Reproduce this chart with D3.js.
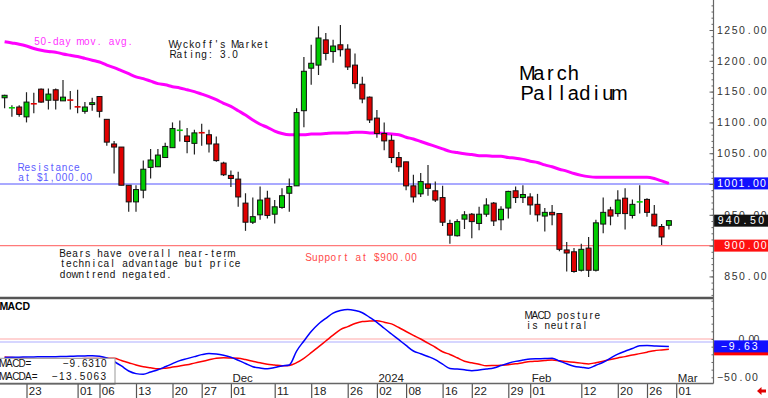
<!DOCTYPE html>
<html>
<head>
<meta charset="utf-8">
<script src="https://cdn.jsdelivr.net/npm/d3@7"></script>
<style>
  body { margin: 0; background: #fff; }
  svg { display: block; }
  text { white-space: pre; }
</style>
</head>
<body>
<div class="chart"></div>
<script>
var svgWidth = 768;
var svgHeight = 398;

// trading days (last one is an axis slot only)
var days = [
  "2023-10-18","2023-10-19","2023-10-20","2023-10-23","2023-10-24","2023-10-25","2023-10-26","2023-10-27","2023-10-30","2023-10-31",
  "2023-11-01","2023-11-02","2023-11-03","2023-11-06","2023-11-07","2023-11-08","2023-11-09","2023-11-10","2023-11-13","2023-11-14",
  "2023-11-15","2023-11-16","2023-11-17","2023-11-20","2023-11-21","2023-11-22","2023-11-24","2023-11-27","2023-11-28","2023-11-29",
  "2023-11-30","2023-12-01","2023-12-04","2023-12-05","2023-12-06","2023-12-07","2023-12-08","2023-12-11","2023-12-12","2023-12-13",
  "2023-12-14","2023-12-15","2023-12-18","2023-12-19","2023-12-20","2023-12-21","2023-12-22","2023-12-26","2023-12-27","2023-12-28",
  "2023-12-29","2024-01-02","2024-01-03","2024-01-04","2024-01-05","2024-01-08","2024-01-09","2024-01-10","2024-01-11","2024-01-12",
  "2024-01-16","2024-01-17","2024-01-18","2024-01-19","2024-01-22","2024-01-23","2024-01-24","2024-01-25","2024-01-26","2024-01-29",
  "2024-01-30","2024-01-31","2024-02-01","2024-02-02","2024-02-05","2024-02-06","2024-02-07","2024-02-08","2024-02-09","2024-02-12",
  "2024-02-13","2024-02-14","2024-02-15","2024-02-16","2024-02-20","2024-02-21","2024-02-22","2024-02-23","2024-02-26","2024-02-27",
  "2024-02-28","2024-02-29","2024-03-01"
];

var open = [1140,1123.5,1125,1109,1130.5,1154,1136,1153,1135,1136.5,1125.5,1118,1129,1142,1105,1065,1060,998,971,990,
  1027,1028,1043,1059,1087,1078,1066,1083.5,1080,1065,1034,1014,1008,969,938,950,977,951,962,985,
  997,1119,1188,1193,1234,1215,1226,1219,1193,1162,1141,1107,1082,1071,1043,1036,997,984,1000,989,
  978,936,916,943,951,936,951,969,942,961,989,978,979,967,948,954,952,893,890,860,
  896,860,935,958,952,977,949,970,975,951,931,933];
var high = [1145,1128,1128,1149,1148,1155,1155,1155,1169,1151,1153,1133,1140,1142,1105,1070,1060,998,998,1038,
  1057,1057,1067,1100,1103,1091,1088,1098,1088,1077,1036,1022,1020,985,978,996,989,974,993,1009,
  1123,1206,1226,1256,1245,1234,1258,1227,1212,1174,1142,1120,1100,1080,1052,1036,1015,1018,1031,1004,
  997,942,943,956,953,963,977,971,964,989,996,998,985,984,961,966,952,906,896,903,
  914,942,978,963,990,993,975,998,977,966,935,941];
var low = [1123,1109,1109,1100,1115,1132,1121,1121,1135,1121,1115,1114,1119,1108,1062,1017,998,955,955,977,
  1009,1028,1043,1059,1069,1050,1048,1062,1051,1036,1013,995,963,924,935,942,944,936,960,955,
  997,1092,1161,1177,1201,1197,1207,1185,1155,1131,1099,1075,1055,1034,1020,990,970,979,981,971,
  932,903,915,927,912,925,947,932,925,944,969,969,950,939,923,933,891,858,856,858,
  849,858,920,933,947,926,944,952,947,931,901,926];
var close = [1144,1124,1113,1133,1130,1133,1146,1136,1141,1136,1125,1125,1132,1118,1068,1060,998,971,991,1024,
  1039,1047,1061,1090,1087.5,1069,1083,1083,1065,1038,1015,1009,979,938,947,974,949,963,981,996,
  1116,1183,1196,1237,1212,1224,1218,1190,1163,1138,1104,1082,1070,1043,1028,997,979,1004,993,974,
  938,917,939,950,939,951,966,940,959,988,978,983,966,950,954,950,894,888,858,894,
  860,937,954,948,974,952,967,972,954,932,914,940.5];

// 50-day moving average
var ma50 = [1231,1229,1227,1224,1220,1217,1215,1214,1211,1209,1207,1204,1201,1198,1193,1189,1184,1179,1174,1171,
  1167,1163,1161,1158,1156,1153,1150,1146,1142,1137,1131,1126,1119,1112,1104,1097,1092,1086,1082,1080,
  1080,1080,1081,1081,1082,1083,1083,1083,1084,1084,1083,1083,1082,1081,1080,1076,1073,1069,1065,1061,
  1057,1053,1051,1049,1048,1046,1046,1045,1045,1043,1042,1040,1037,1035,1031,1028,1024,1021,1017,1014,
  1012,1011,1011,1011,1011,1011,1011,1011,1011,1009,1005,1001];

// MACD and its average
var macd = [-24.2,-23.9,-23.8,-23.5,-23.4,-23.2,-23.1,-23.1,-22.8,-22.6,-22.2,-22.1,-21.9,-22.5,-24.8,-29.4,-35.2,-41.8,-45.2,-46,
  -43.1,-40.2,-36.3,-32.2,-28.2,-25.6,-23,-20.4,-18.9,-19.6,-21.3,-23.9,-27.8,-32,-36.2,-37.9,-38.9,-37.2,-35.2,-33.9,
  -15.7,-2.6,9.8,19.6,26.9,33.7,37.1,38.6,37.2,34.3,28.3,21.8,14,6.5,-0.9,-8.4,-15.7,-19.2,-22.8,-27,
  -32.9,-38.4,-39.3,-40.2,-41.3,-40.5,-39.3,-37.9,-34.7,-31.6,-29.2,-27.5,-26.1,-25.8,-25.6,-25.2,-28.7,-32.4,-35.5,-36.9,
  -38.1,-34.3,-30.4,-24.9,-19.8,-15.9,-12.5,-8.8,-8.5,-9.0,-9.4,-9.631];
var macda = [-23.5,-24.2,-24.8,-25.6,-26.1,-26.1,-26.1,-26.1,-26,-25.8,-25.7,-25.6,-25.5,-25.3,-25.2,-25.2,-28.1,-30.9,-33.9,-36.2,
  -37.6,-39,-38.1,-36.7,-35.2,-33.7,-31.5,-29.4,-27.2,-25.1,-24.5,-24.8,-25.2,-26.9,-29,-31.1,-32.9,-33.9,-35,-34.5,
  -30.9,-25.2,-17.9,-10.2,-2.6,5,12.3,16.2,20.2,22.8,23.4,23.9,21.9,19.7,15,9.8,4.8,0,-5.5,-10.8,
  -16.6,-20.2,-24.5,-29,-31.1,-33,-34.9,-34.6,-34.2,-33.6,-32.4,-30.9,-29.5,-28.9,-28.2,-27.4,-28.5,-29.5,-30.5,-31.5,
  -32.5,-30.9,-29,-26.8,-24.8,-23,-20.9,-19.1,-17.2,-15.2,-14.3,-13.5063];

var priceTicks = [850, 900, 950, 1000, 1050, 1100, 1150, 1200, 1250];
var macdTicks = [0, -50];
var dayTicks = ["2023-10-23","2023-11-01","2023-11-06","2023-11-13","2023-11-20","2023-11-27","2023-12-01","2023-12-11",
  "2023-12-18","2023-12-26","2024-01-02","2024-01-08","2024-01-16","2024-01-22","2024-01-29","2024-02-01","2024-02-12",
  "2024-02-20","2024-02-26","2024-03-01"];
var dayTickLabels = ["23","01","06","13","20","27","01","11","18","26","02","08","16","22","29","01","12","20","26","01"];
var periodTicks = ["2023-12-01","2024-01-02","2024-02-01","2024-03-01"];
var periodLabels = ["Dec","2024","Feb","Mar"];
var resistance = 1000;
var support = 900;

var plotRight = 713.5;
var priceBottom = 297;
var macdTop = 299;
var dateTop = 383.5;

var svg = d3.select(".chart")
  .append("svg")
  .attr("width", svgWidth)
  .attr("height", svgHeight);

var FONT = "'Liberation Sans', Arial, sans-serif";
var ctx = document.createElement("canvas").getContext("2d");

// text laid out on a fixed character pitch, each glyph centred in its cell
function gridText(g, str, x0, y, pitch, size, fill, weight) {
  var font = (weight || "normal") + " " + size + "px " + FONT;
  ctx.font = font;
  var xs = Array.from(str).map(function(c, i) {
    return (x0 + i * pitch + (pitch - ctx.measureText(c).width) / 2).toFixed(2);
  });
  return g.append("text")
    .attr("x", xs.join(" "))
    .attr("y", y)
    .style("font", font)
    .attr("fill", fill || "#000")
    .text(str);
}

// Scales
var xScale = d3.scaleLinear().domain([0, 91]).range([4.6, 668.9]);
var yPrice = d3.scaleLinear().domain([816.6, 1298.7]).range([priceBottom, 0]);
var yMacd = d3.scaleLinear().domain([-50, 0]).range([377.3, 339]);

var idx = d3.range(close.length);

// ---- price panel ----
var pricePanel = svg.append("g");

pricePanel.append("line")
  .attr("x1", 0).attr("x2", plotRight)
  .attr("y1", yPrice(resistance)).attr("y2", yPrice(resistance))
  .attr("stroke", "#8c8cff").attr("stroke-width", 1.6);

pricePanel.append("line")
  .attr("x1", 0).attr("x2", plotRight)
  .attr("y1", yPrice(support)).attr("y2", yPrice(support))
  .attr("stroke", "#ff7a7a").attr("stroke-width", 1.2);

// moving average
pricePanel.append("path")
  .datum(idx)
  .attr("fill", "none")
  .attr("stroke", "#ff00ff")
  .attr("stroke-width", 3)
  .attr("d", d3.line().x(i => xScale(i)).y(i => yPrice(ma50[i])).curve(d3.curveMonotoneX));

// candles
var candles = pricePanel.selectAll("g.candle")
  .data(idx)
  .enter()
  .append("g")
  .classed("candle", true);

candles.append("line")
  .attr("x1", i => xScale(i)).attr("x2", i => xScale(i))
  .attr("y1", i => yPrice(high[i])).attr("y2", i => yPrice(low[i]))
  .attr("stroke", "#222").attr("stroke-width", 1.2);

candles.each(function(i) {
  var g = d3.select(this);
  var yo = yPrice(open[i]), yc = yPrice(close[i]);
  var col = close[i] >= open[i] ? "#00cc00" : "#e00000";
  if (Math.abs(yo - yc) < 1.5) {
    g.append("line")
      .attr("x1", xScale(i) - 3).attr("x2", xScale(i) + 3)
      .attr("y1", (yo + yc) / 2).attr("y2", (yo + yc) / 2)
      .attr("stroke", col).attr("stroke-width", 1.6);
  } else {
    g.append("rect")
      .attr("x", xScale(i) - 2.5)
      .attr("y", Math.min(yo, yc))
      .attr("width", 5)
      .attr("height", Math.abs(yo - yc))
      .attr("fill", col)
      .attr("stroke", "#111")
      .attr("stroke-width", 1);
  }
});

// annotations
gridText(svg, "50-day mov. avg.", 34, 44.8, 6.2, 10, "#ff33ff");
gridText(svg, "Wyckoff's Market", 170, 47.8, 6.2, 10, "#111");
gridText(svg, "Rating: 3.0", 170, 58, 6.2, 10, "#111");
gridText(svg, "March", 521.5, 80, 11.5, 20, "#000");
gridText(svg, "Palladium", 521.5, 100, 11.5, 20, "#000");
gridText(svg, "Resistance", 18, 171, 6.2, 10, "#5c5cff");
gridText(svg, "at $1,000.00", 18, 181, 6.2, 10, "#5c5cff");
gridText(svg, "Bears have overall near-term", 59.5, 256.8, 6.25, 10, "#111");
gridText(svg, "technical advantage but price", 59.5, 267.4, 6.25, 10, "#111");
gridText(svg, "downtrend negated.", 59.5, 278, 6.25, 10, "#111");
gridText(svg, "Support at $900.00", 305.5, 260.6, 6.2, 10, "#ff4a4a");

// panel separator
svg.append("line")
  .attr("x1", 0).attr("x2", plotRight)
  .attr("y1", 298).attr("y2", 298)
  .attr("stroke", "#555").attr("stroke-width", 2.6);

// ---- MACD panel ----
var macdPanel = svg.append("g");

macdPanel.append("line")
  .attr("x1", 0).attr("x2", plotRight).attr("y1", 339).attr("y2", 339)
  .attr("stroke", "#ffc4c4").attr("stroke-width", 1.5);
macdPanel.append("line")
  .attr("x1", 0).attr("x2", plotRight).attr("y1", 342).attr("y2", 342)
  .attr("stroke", "#c8c8ff").attr("stroke-width", 1.5);

macdPanel.append("path")
  .datum(idx)
  .attr("fill", "none")
  .attr("stroke", "#ff0000")
  .attr("stroke-width", 1.5)
  .attr("d", d3.line().x(i => xScale(i)).y(i => yMacd(macda[i])).curve(d3.curveMonotoneX));

macdPanel.append("path")
  .datum(idx)
  .attr("fill", "none")
  .attr("stroke", "#0000ff")
  .attr("stroke-width", 1.5)
  .attr("d", d3.line().x(i => xScale(i)).y(i => yMacd(macd[i])).curve(d3.curveMonotoneX));

gridText(svg, "MACD", 0, 310, 7.5, 10.5, "#000", "bold");
gridText(svg, "MACD posture", 525.5, 318.8, 6.25, 10, "#111");
gridText(svg, "is neutral", 525.5, 328.8, 6.25, 10, "#111");

// legend box
macdPanel.append("rect")
  .attr("x", -1).attr("y", 358.3).attr("width", 116).attr("height", 26)
  .attr("fill", "#fff").attr("stroke", "#999").attr("stroke-width", 1);
gridText(svg, "MACD=", 0, 367.3, 6.3, 10, "#111");
gridText(svg, "MACDA=", 0, 380, 6.3, 10, "#111");
gridText(svg, d3.format(".4f")(macd[macd.length - 1]), 62.8, 367.3, 6.3, 10, "#111");
gridText(svg, d3.format(".4f")(macda[macda.length - 1]), 51.5, 380, 6.9, 10, "#111");

// period labels
periodTicks.forEach(function(d, k) {
  svg.append("text")
    .attr("x", xScale(days.indexOf(d)) + 1.5)
    .attr("y", 381.5)
    .style("font", "11.5px " + FONT)
    .attr("fill", "#222")
    .text(periodLabels[k]);
});

// ---- date axis ----
var xAxis = d3.axisBottom(xScale)
  .tickValues(dayTicks.map(d => days.indexOf(d)))
  .tickFormat((d, k) => dayTickLabels[k])
  .tickSizeInner(15)
  .tickSizeOuter(0);

var dateAxis = svg.append("g")
  .attr("transform", `translate(0, ${dateTop})`)
  .call(xAxis);
dateAxis.select(".domain").remove();
dateAxis.selectAll(".tick line").attr("stroke", "#555").attr("stroke-width", 1.2);
dateAxis.selectAll(".tick text")
  .attr("x", 1.8).attr("y", 11.5).attr("dy", 0)
  .attr("text-anchor", "start")
  .style("font", "11.5px " + FONT)
  .attr("fill", "#222");

svg.append("line")
  .attr("x1", 0).attr("x2", plotRight).attr("y1", dateTop).attr("y2", dateTop)
  .attr("stroke", "#666").attr("stroke-width", 1.3);

// ---- right axes ----
svg.append("line")
  .attr("x1", plotRight).attr("x2", plotRight).attr("y1", 0).attr("y2", dateTop)
  .attr("stroke", "#666").attr("stroke-width", 1.2);

var minorPrice = svg.append("g")
  .attr("transform", `translate(${plotRight},0)`)
  .call(d3.axisRight(yPrice).tickValues(d3.range(820, 1300, 10)).tickSizeInner(-2).tickSizeOuter(0).tickFormat(""));
var majorPrice = svg.append("g")
  .attr("transform", `translate(${plotRight},0)`)
  .call(d3.axisRight(yPrice).tickValues(priceTicks).tickSizeInner(-4).tickSizeOuter(0).tickFormat(""));
var minorMacd = svg.append("g")
  .attr("transform", `translate(${plotRight},0)`)
  .call(d3.axisRight(yMacd).tickValues(d3.range(-50, 51, 10)).tickSizeInner(-2).tickSizeOuter(0).tickFormat(""));
[minorPrice, majorPrice, minorMacd].forEach(function(a) {
  a.select(".domain").remove();
  a.selectAll(".tick line").attr("stroke", "#666");
});

var fmt2 = d3.format(".2f");
priceTicks.forEach(function(v) {
  var s = fmt2(v);
  gridText(svg, s, 716.3 + (7 - s.length) * 7.3, yPrice(v) + 3.8, 7.3, 10.5, "#333");
});
gridText(svg, fmt2(macdTicks[0]), 739, yMacd(macdTicks[0]) + 3.5, 5, 10.5, "#333");
gridText(svg, fmt2(macdTicks[1]), 716.5, yMacd(macdTicks[1]) + 3.8, 7, 10.5, "#333");

// value boxes
function valueBox(v, fill, x0, pitch, yv) {
  svg.append("rect")
    .attr("x", plotRight + 0.6).attr("y", yv - 6).attr("width", svgWidth - plotRight).attr("height", 12)
    .attr("fill", fill);
  gridText(svg, v, x0, yv + 3.8, pitch, 10.5, "#fff");
}
valueBox(fmt2(ma50[ma50.length - 1]), "#1010ff", 716.5, 7.15, yPrice(ma50[ma50.length - 1]));
valueBox(fmt2(close[close.length - 1]), "#111", 716.5, 8.1, yPrice(close[close.length - 1]));
valueBox(fmt2(support), "#ff1010", 716.3 + 7.3, 7.3, yPrice(support));

svg.append("rect")
  .attr("x", plotRight + 0.6).attr("y", yMacd(macda[macda.length - 1]) - 6)
  .attr("width", svgWidth - plotRight).attr("height", 12).attr("fill", "#ff0000");
svg.append("rect")
  .attr("x", plotRight + 0.6).attr("y", yMacd(macd[macd.length - 1]) - 6)
  .attr("width", svgWidth - plotRight).attr("height", 12).attr("fill", "#1010ff");
gridText(svg, d3.format(".2f")(macd[macd.length - 1]), 720, yMacd(macd[macd.length - 1]) + 3.8, 7.7, 10.5, "#fff");

// little red arrow, bottom right
svg.append("path")
  .attr("d", "M757,391 L761.5,387 L761.5,389.5 L766,389.5 L766,392.5 L761.5,392.5 L761.5,395 Z")
  .attr("fill", "#e00000");
</script>
</body>
</html>
